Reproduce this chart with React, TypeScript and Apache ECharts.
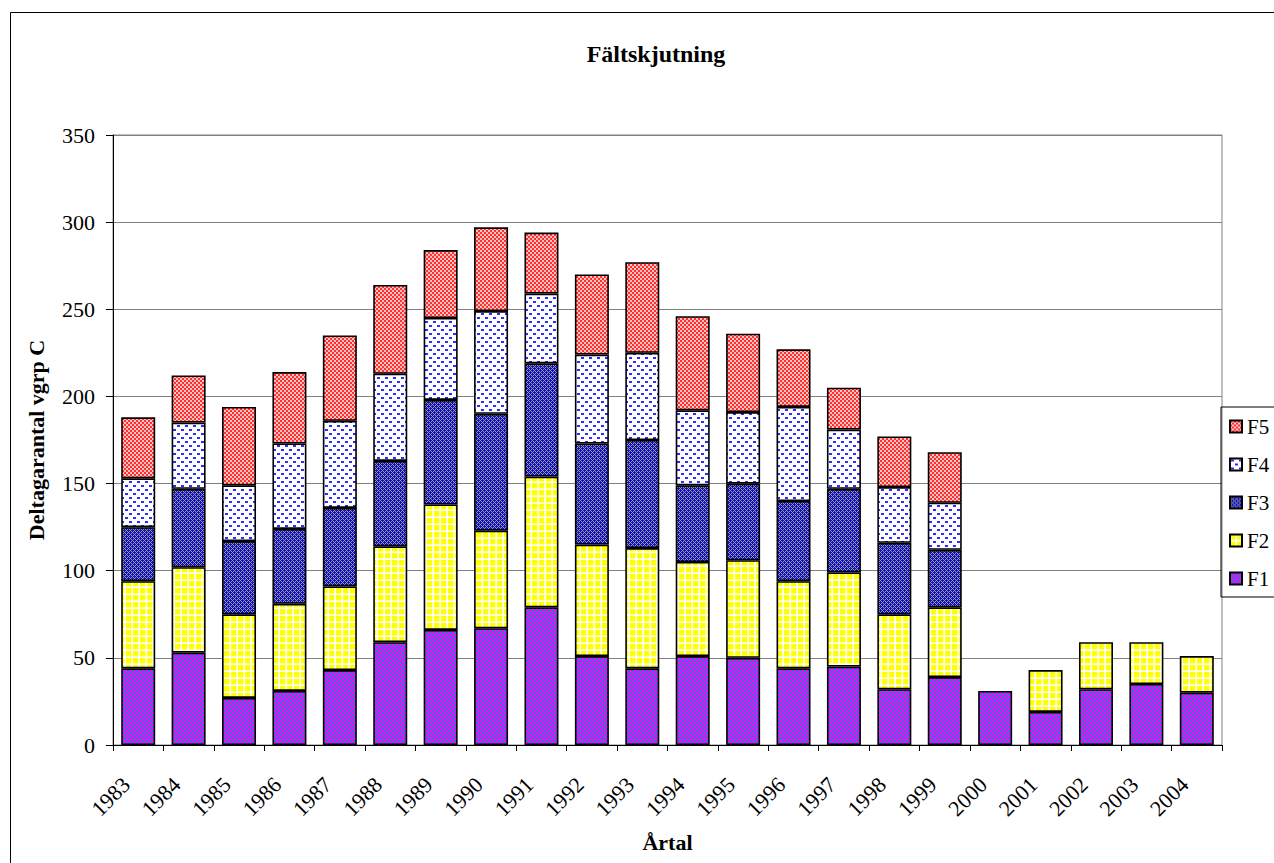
import React, { useEffect, useRef } from 'react';
import * as echarts from 'echarts';

const years = ['1983', '1984', '1985', '1986', '1987', '1988', '1989', '1990', '1991', '1992', '1993', '1994', '1995', '1996', '1997', '1998', '1999', '2000', '2001', '2002', '2003', '2004'];
const f1 = [44, 53, 27, 31, 43, 59, 66, 67, 79, 51, 44, 51, 50, 44, 45, 32, 39, 31, 19, 32, 35, 30];
const f2 = [50, 49, 48, 50, 48, 55, 72, 56, 75, 64, 69, 54, 56, 50, 54, 43, 40, null, 24, 27, 24, 21];
const f3 = [31, 45, 42, 43, 45, 49, 60, 67, 65, 58, 62, 44, 44, 46, 48, 41, 33, null, null, null, null, null];
const f4 = [28, 38, 32, 49, 50, 50, 47, 59, 40, 51, 50, 43, 41, 54, 34, 32, 27, null, null, null, null, null];
const f5 = [35, 27, 45, 41, 49, 51, 39, 48, 35, 46, 52, 54, 45, 33, 24, 29, 29, null, null, null, null, null];
const seriesNames = ['F1', 'F2', 'F3', 'F4', 'F5'];
const legendOrder = ['F5', 'F4', 'F3', 'F2', 'F1'];

const FONT = "'Liberation Serif', 'Times New Roman', serif";

function makePattern(w: number, h: number, draw: (ctx: CanvasRenderingContext2D) => void) {
  const c = document.createElement('canvas');
  c.width = w;
  c.height = h;
  const ctx = c.getContext('2d') as CanvasRenderingContext2D;
  draw(ctx);
  return { image: c, repeat: 'repeat', imageWidth: w, imageHeight: h };
}

function buildPatterns() {
  const p1 = makePattern(4, 4, (ctx) => {
    ctx.fillStyle = '#3a6fd8';
    ctx.fillRect(0, 0, 4, 4);
    ctx.fillStyle = '#ff00ff';
    ctx.fillRect(0, 0, 2, 2);
    ctx.fillRect(2, 2, 2, 2);
  });
  const p2 = makePattern(7, 7, (ctx) => {
    ctx.fillStyle = '#ffffff';
    ctx.fillRect(0, 0, 7, 7);
    ctx.fillStyle = '#ffff00';
    ctx.fillRect(0, 0, 5, 5);
    ctx.fillStyle = '#ffff99';
    ctx.fillRect(5, 0, 1, 5);
    ctx.fillRect(0, 5, 5, 1);
  });
  const p3 = makePattern(4, 4, (ctx) => {
    ctx.fillStyle = '#0808f4';
    ctx.fillRect(0, 0, 4, 4);
    ctx.fillStyle = '#a4a444';
    const pts = [[0, 0], [1, 1], [2, 2], [3, 3], [1, 3], [3, 1]];
    pts.forEach(([x, y]) => ctx.fillRect(x, y, 1, 1));
  });
  const p4 = makePattern(8, 8, (ctx) => {
    ctx.fillStyle = '#ffffff';
    ctx.fillRect(0, 0, 8, 8);
    ctx.fillStyle = '#2b2bff';
    ctx.fillRect(1, 1, 3, 2);
    ctx.fillRect(5, 5, 3, 2);
  });
  const p5 = makePattern(4, 4, (ctx) => {
    ctx.fillStyle = '#ffc0c0';
    ctx.fillRect(0, 0, 4, 4);
    ctx.fillStyle = '#ff3030';
    ctx.fillRect(0, 0, 2, 2);
    ctx.fillRect(2, 2, 2, 2);
  });
  return [p1, p2, p3, p4, p5];
}

export default function App() {
  const ref = useRef<HTMLDivElement>(null);

  useEffect(() => {
    if (!ref.current) return;
    const chart = echarts.init(ref.current, null, { renderer: 'svg' });
    const patterns = buildPatterns();
    const dataSets = [f1, f2, f3, f4, f5];

    const series = seriesNames.map((name, i) => ({
      name,
      type: 'bar',
      stack: 'total',
      data: dataSets[i],
      barWidth: 34,
      itemStyle: {
        color: patterns[i],
        borderColor: '#000000',
        borderWidth: 1.6,
      },
      emphasis: { disabled: true },
    }));

    chart.setOption({
      animation: false,
      backgroundColor: '#ffffff',
      title: {
        text: 'Fältskjutning',
        left: 651,
        top: 37,
        textAlign: 'center',
        textStyle: { fontFamily: FONT, fontWeight: 'bold', fontSize: 24, color: '#000' },
      },
      legend: {
        orient: 'vertical',
        left: 1221,
        top: 407,
        padding: [9, 40, 8, 8],
        itemWidth: 12,
        itemHeight: 12,
        itemGap: 17,
        icon: 'rect',
        selectedMode: false,
        borderColor: '#000',
        borderWidth: 1,
        data: legendOrder,
        textStyle: { fontFamily: FONT, fontSize: 21, color: '#000' },
      },
      grid: {
        left: 113,
        top: 135,
        width: 1109,
        height: 610,
        show: true,
        borderColor: '#808080',
        borderWidth: 1,
        outerBoundsMode: 'none',
        containLabel: false,
      },
      xAxis: {
        type: 'category',
        data: years,
        name: 'Årtal',
        nameLocation: 'middle',
        nameGap: 86,
        nameTextStyle: { fontFamily: FONT, fontWeight: 'bold', fontSize: 22, color: '#000' },
        axisLine: { show: true, lineStyle: { color: '#000', width: 1 } },
        axisTick: { show: true, length: 6, lineStyle: { color: '#000' } },
        axisLabel: {
          interval: 0,
          rotate: 45,
          margin: 24,
          fontFamily: FONT,
          fontSize: 22,
          color: '#000',
          hideOverlap: false,
          formatter: (v: string) => `{t|${v}}{s| }`,
          rich: {
            t: { fontFamily: FONT, fontSize: 22, color: '#000' },
            s: { width: 17, fontSize: 22 },
          },
        },
        splitLine: { show: false },
      },
      yAxis: {
        type: 'value',
        min: 0,
        max: 350,
        interval: 50,
        name: 'Deltagarantal vgrp C',
        nameLocation: 'middle',
        nameRotate: 90,
        nameGap: 66,
        nameTextStyle: { fontFamily: FONT, fontWeight: 'bold', fontSize: 22, color: '#000' },
        axisLine: { show: true, lineStyle: { color: '#000', width: 1 } },
        axisTick: { show: true, length: 7, lineStyle: { color: '#000' } },
        axisLabel: { margin: 18, fontFamily: FONT, fontSize: 22, color: '#000' },
        splitLine: { show: true, lineStyle: { color: '#808080', width: 1 } },
      },
      graphic: [
        {
          type: 'rect',
          z: -10,
          silent: true,
          shape: { x: 10.5, y: 12.5, width: 1290, height: 870 },
          style: { fill: 'none', stroke: '#000', lineWidth: 1 },
        },
      ],
      series,
    });

    return () => {
      chart.dispose();
    };
  }, []);

  return (
    <div style={{ position: 'absolute', left: 0, top: 0, width: 1274, height: 863, overflow: 'hidden', background: '#fff' }}>
      <div ref={ref} style={{ width: 1320, height: 900 }} />
    </div>
  );
}
